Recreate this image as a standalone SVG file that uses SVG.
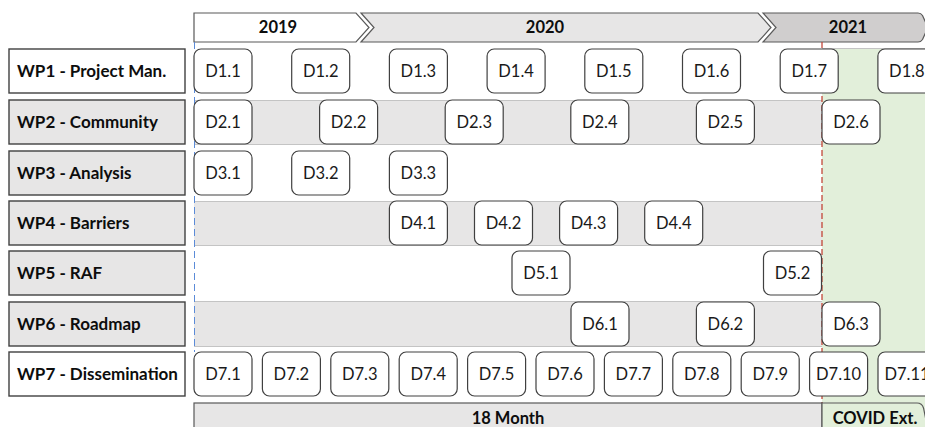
<svg xmlns="http://www.w3.org/2000/svg" width="925" height="427" viewBox="0 0 925 427">
  <style>
    .wp { fill: #e7e6e6; stroke: #404040; stroke-width: 1.4; }
    .wp.w { fill: #ffffff; }
    .wpt { font-family: Lato, "Liberation Sans", sans-serif; font-weight: bold; font-size: 17px; fill: #0d0d0d; }
    .d { fill: #ffffff; stroke: #404040; stroke-width: 1.2; }
    .dt { font-family: Lato, "Liberation Sans", sans-serif; font-size: 16.5px; fill: #1a1a1a; text-anchor: middle; }
    .yr { font-family: Lato, "Liberation Sans", sans-serif; font-weight: bold; font-size: 16.5px; fill: #0d0d0d; text-anchor: middle; }
    .band { fill: #e7e6e6; }
    .bl { stroke: #c4c4c4; stroke-width: 1; }
    .hdr { stroke: #595959; stroke-width: 1.2; }
  </style>
  <defs>
    <rect id="box" width="58" height="44" rx="7" class="d"/>
  </defs>

  <!-- COVID extension background -->
  <rect x="822" y="48" width="103" height="379" fill="#e2efda"/>
  <line x1="822" y1="48.5" x2="925" y2="48.5" class="bl"/>

  <!-- alternating row bands -->
  <g id="bands">
    <rect x="194" y="100" width="628" height="44" class="band"/>
    <rect x="194" y="201" width="628" height="44" class="band"/>
    <rect x="194" y="302" width="628" height="44" class="band"/>
    <path d="M194 100.5H822M194 144.5H822M194 201.5H822M194 245.5H822M194 301.5H822M194 346.5H822" class="bl"/>
  </g>

  <!-- year header -->
  <g id="year-2019">
    <polygon points="194,13 356,13 369,27.5 356,42 194,42" fill="#ffffff" class="hdr"/>
    <text x="278" y="33" class="yr">2019</text>
  </g>
  <g id="year-2020">
    <polygon points="361,13 758,13 771,27.5 758,42 361,42 374,27.5" fill="#e7e6e6" class="hdr"/>
    <text x="545" y="33" class="yr">2020</text>
  </g>
  <g id="year-2021">
    <path d="M763,13 H918 Q921,13 922.5,15.5 L928,27.5 L922.5,39.5 Q921,42 918,42 H763 L776,27.5 Z" fill="#d0cece" class="hdr"/>
    <text x="848" y="33" class="yr">2021</text>
  </g>

  <!-- milestone markers -->
  <g id="connectors">
    <line x1="194.5" y1="42" x2="194.5" y2="352" stroke="#5b8bd8" stroke-width="1" stroke-dasharray="7,4"/>
    <line x1="822" y1="42" x2="822" y2="403" stroke="#c0392b" stroke-width="1.2" stroke-dasharray="6,3"/>
  </g>

  <!-- work package labels -->
  <g id="wp1"><rect x="9" y="49" width="176" height="44" class="wp w"/><text x="17" y="77" class="wpt">WP1 - Project Man.</text></g>
  <g id="wp2"><rect x="9" y="100" width="176" height="44" class="wp"/><text x="17" y="128" class="wpt">WP2 - Community</text></g>
  <g id="wp3"><rect x="9" y="151" width="176" height="44" class="wp"/><text x="17" y="179" class="wpt">WP3 - Analysis</text></g>
  <g id="wp4"><rect x="9" y="201" width="176" height="44" class="wp"/><text x="17" y="229" class="wpt">WP4 - Barriers</text></g>
  <g id="wp5"><rect x="9" y="251" width="176" height="44" class="wp"/><text x="17" y="279" class="wpt">WP5 - RAF</text></g>
  <g id="wp6"><rect x="9" y="302" width="176" height="44" class="wp"/><text x="17" y="330" class="wpt">WP6 - Roadmap</text></g>
  <g id="wp7"><rect x="9" y="352" width="176" height="44" class="wp w"/><text x="17" y="380" class="wpt">WP7 - Dissemination</text></g>

  <!-- WP1 deliverables -->
  <g id="d1-1"><use href="#box" x="194" y="49"/><text x="223" y="77" class="dt">D1.1</text></g>
  <g id="d1-2"><use href="#box" x="291.7" y="49"/><text x="320.7" y="77" class="dt">D1.2</text></g>
  <g id="d1-3"><use href="#box" x="389.4" y="49"/><text x="418.4" y="77" class="dt">D1.3</text></g>
  <g id="d1-4"><use href="#box" x="487.1" y="49"/><text x="516.1" y="77" class="dt">D1.4</text></g>
  <g id="d1-5"><use href="#box" x="584.8" y="49"/><text x="613.8" y="77" class="dt">D1.5</text></g>
  <g id="d1-6"><use href="#box" x="682.5" y="49"/><text x="711.5" y="77" class="dt">D1.6</text></g>
  <g id="d1-7"><use href="#box" x="780.2" y="49"/><text x="809.2" y="77" class="dt">D1.7</text></g>
  <g id="d1-8"><use href="#box" x="877.9" y="49"/><text x="906.9" y="77" class="dt">D1.8</text></g>

  <!-- WP2 deliverables -->
  <g id="d2-1"><use href="#box" x="194" y="100"/><text x="223" y="128" class="dt">D2.1</text></g>
  <g id="d2-2"><use href="#box" x="319.6" y="100"/><text x="348.6" y="128" class="dt">D2.2</text></g>
  <g id="d2-3"><use href="#box" x="445.2" y="100"/><text x="474.2" y="128" class="dt">D2.3</text></g>
  <g id="d2-4"><use href="#box" x="570.8" y="100"/><text x="599.8" y="128" class="dt">D2.4</text></g>
  <g id="d2-5"><use href="#box" x="696.4" y="100"/><text x="725.4" y="128" class="dt">D2.5</text></g>
  <g id="d2-6"><use href="#box" x="822" y="100"/><text x="851" y="128" class="dt">D2.6</text></g>

  <!-- WP3 deliverables -->
  <g id="d3-1"><use href="#box" x="194" y="151"/><text x="223" y="179" class="dt">D3.1</text></g>
  <g id="d3-2"><use href="#box" x="291.7" y="151"/><text x="320.7" y="179" class="dt">D3.2</text></g>
  <g id="d3-3"><use href="#box" x="389.4" y="151"/><text x="418.4" y="179" class="dt">D3.3</text></g>

  <!-- WP4 deliverables -->
  <g id="d4-1"><use href="#box" x="389.4" y="201"/><text x="418.4" y="229" class="dt">D4.1</text></g>
  <g id="d4-2"><use href="#box" x="474.5" y="201"/><text x="503.5" y="229" class="dt">D4.2</text></g>
  <g id="d4-3"><use href="#box" x="559.6" y="201"/><text x="588.6" y="229" class="dt">D4.3</text></g>
  <g id="d4-4"><use href="#box" x="644.7" y="201"/><text x="673.7" y="229" class="dt">D4.4</text></g>

  <!-- WP5 deliverables -->
  <g id="d5-1"><use href="#box" x="512" y="251"/><text x="541" y="279" class="dt">D5.1</text></g>
  <g id="d5-2"><use href="#box" x="763.5" y="251"/><text x="792.5" y="279" class="dt">D5.2</text></g>

  <!-- WP6 deliverables -->
  <g id="d6-1"><use href="#box" x="571" y="302"/><text x="600" y="330" class="dt">D6.1</text></g>
  <g id="d6-2"><use href="#box" x="696.4" y="302"/><text x="725.4" y="330" class="dt">D6.2</text></g>
  <g id="d6-3"><use href="#box" x="822" y="302"/><text x="851" y="330" class="dt">D6.3</text></g>

  <!-- WP7 deliverables -->
  <g id="d7-1"><use href="#box" x="194" y="352"/><text x="223" y="380" class="dt">D7.1</text></g>
  <g id="d7-2"><use href="#box" x="262.4" y="352"/><text x="291.4" y="380" class="dt">D7.2</text></g>
  <g id="d7-3"><use href="#box" x="330.8" y="352"/><text x="359.8" y="380" class="dt">D7.3</text></g>
  <g id="d7-4"><use href="#box" x="399.2" y="352"/><text x="428.2" y="380" class="dt">D7.4</text></g>
  <g id="d7-5"><use href="#box" x="467.6" y="352"/><text x="496.6" y="380" class="dt">D7.5</text></g>
  <g id="d7-6"><use href="#box" x="536" y="352"/><text x="565" y="380" class="dt">D7.6</text></g>
  <g id="d7-7"><use href="#box" x="604.4" y="352"/><text x="633.4" y="380" class="dt">D7.7</text></g>
  <g id="d7-8"><use href="#box" x="672.8" y="352"/><text x="701.8" y="380" class="dt">D7.8</text></g>
  <g id="d7-9"><use href="#box" x="741.2" y="352"/><text x="770.2" y="380" class="dt">D7.9</text></g>
  <g id="d7-10"><use href="#box" x="809.6" y="352"/><text x="838.6" y="380" class="dt">D7.10</text></g>
  <g id="d7-11"><use href="#box" x="878" y="352"/><text x="907" y="380" class="dt">D7.11</text></g>

  <!-- duration bar -->
  <g id="duration-18">
    <rect x="194" y="403" width="628" height="40" fill="#e7e6e6" class="hdr"/>
    <text x="508" y="424" class="yr">18 Month</text>
  </g>
  <g id="duration-covid">
    <path d="M822,440 V403 H917 Q922,403 923.5,408 L926,420 V440 Z" fill="#e2efda" class="hdr"/>
    <text x="875" y="424" class="yr">COVID Ext.</text>
  </g>
</svg>
